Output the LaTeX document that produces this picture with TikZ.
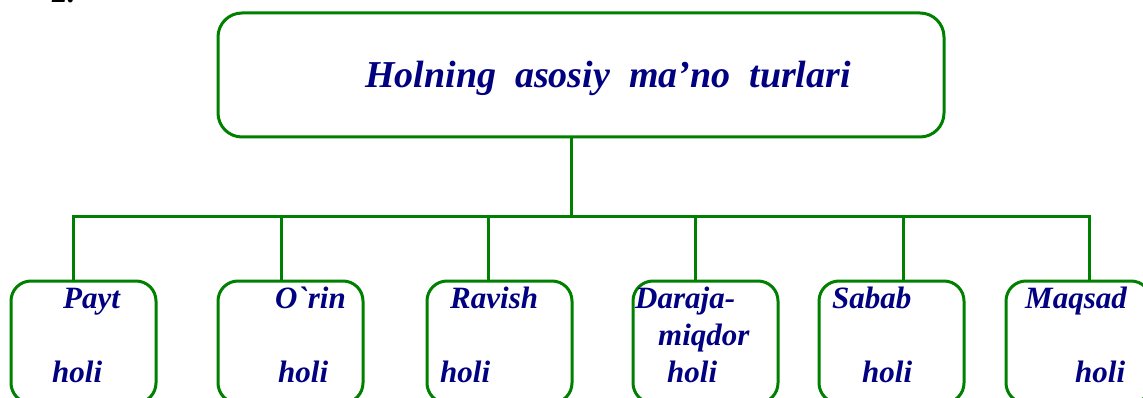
\documentclass[tikz,border=0pt]{standalone}
\usepackage{fontspec}
\newfontfamily\boxfont{Liberation Serif}[Ligatures=TeXOff]
\usepackage{tikz}
\usetikzlibrary{positioning, calc}

\definecolor{boxgreen}{RGB}{0,128,0}
\definecolor{textblue}{RGB}{0,0,128}

\begin{document}
\begin{tikzpicture}[x=1pt, y=-1pt,
                mainbox/.style={draw=boxgreen, line width=3pt, rounded corners=24pt,
                               minimum width=726pt, minimum height=124pt, inner sep=0pt},
                kindbox/.style={draw=boxgreen, line width=3pt, rounded corners=20pt,
                               minimum width=145pt, minimum height=122pt, inner sep=0pt},
                kind/.style={text=textblue, anchor=base west, inner sep=0pt,
                            font=\boxfont\fontsize{31}{33}\selectfont\bfseries\itshape},
                link/.style={draw=boxgreen, line width=3pt}]

                % page frame, the lower boxes run past its edge
                \useasboundingbox (0,0) rectangle (1143,398);
                \clip (0,0) rectangle (1143,398);

                % number of the scheme, cut at the top
                \node[kind, text=black] (num) at (52,3) {2.};

                % main box with its title
                \node[mainbox] (main) at (581,75) {};
                \node[kind, font=\boxfont\fontsize{38}{40}\selectfont\bfseries\itshape] (title)
                    at (365,88) {Holning\ \ asosiy\ \ ma’no\ \ turlari};

                % the six kinds below
                \node[kindbox] (payt) at (83.5,342) {};
                \node[kindbox] (orin) at (290.5,342) {};
                \node[kindbox] (ravish) at (499.5,342) {};
                \node[kindbox] (daraja) at (705.5,342) {};
                \node[kindbox] (sabab) at (891.5,342) {};
                \node[kindbox] (maqsad) at (1078.5,342) {};

                % texts of the kinds
                \node[kind] (payt1) at (63,308) {Payt};
                \node[kind] (payt2) at (52,382) {holi};
                \node[kind] (orin1) at (275,308) {O`rin};
                \node[kind] (orin2) at (278,382) {holi};
                \node[kind] (ravish1) at (450,308) {Ravish};
                \node[kind] (ravish2) at (440,382) {holi};
                \node[kind] (daraja1) at (635,308) {Daraja-};
                \node[kind] (daraja2) at (658,345) {miqdor};
                \node[kind] (daraja3) at (667,382) {holi};
                \node[kind] (sabab1) at (832,308) {Sabab};
                \node[kind] (sabab2) at (862,382) {holi};
                \node[kind] (maqsad1) at (1025,308) {Maqsad};
                \node[kind] (maqsad2) at (1075,382) {holi};

                % bus line and its drops
                \coordinate (hub) at (571,217);
                \coordinate (busL) at (73,217);
                \coordinate (busR) at (1089,217);
                \draw[link] (hub |- main.south) -- (hub);
                \draw[link, line cap=rect] (busL) -- (busR);
                \draw[link] (busL) -- (busL |- payt.north);
                \draw[link] (281,217) -- (281,0 |- orin.north);
                \draw[link] (488,217) -- (488,0 |- ravish.north);
                \draw[link] (695,217) -- (695,0 |- daraja.north);
                \draw[link] (903,217) -- (903,0 |- sabab.north);
                \draw[link] (busR) -- (busR |- maqsad.north);
            \end{tikzpicture}
\end{document}
